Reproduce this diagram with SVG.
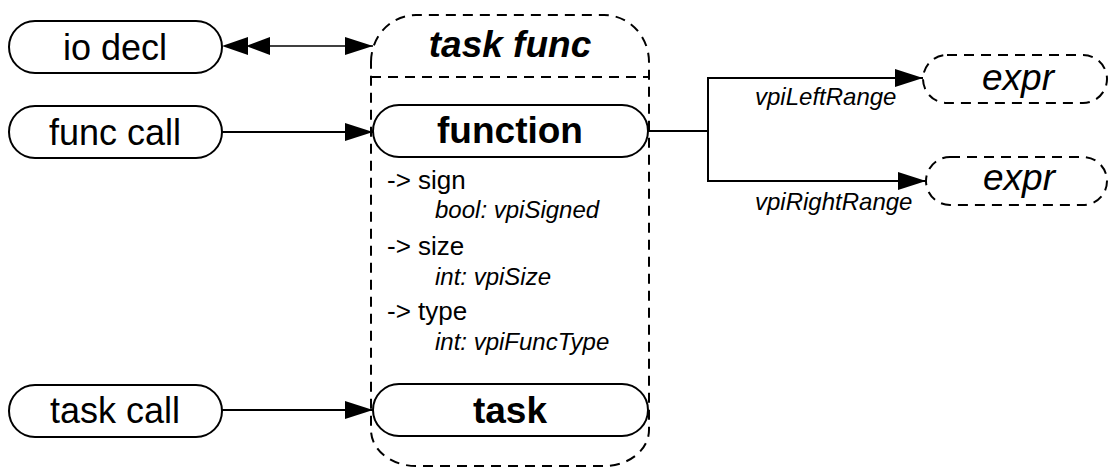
<svg xmlns="http://www.w3.org/2000/svg" width="1109" height="468" viewBox="0 0 1109 468">
<defs>
<style>
.pill{fill:#fff;stroke:#000;stroke-width:2}
.dash{fill:none;stroke:#000;stroke-width:2;stroke-dasharray:10 7}
.dpill{fill:#fff;stroke:#000;stroke-width:2;stroke-dasharray:10 7}
.big{font-family:"Liberation Sans",Arial,sans-serif;font-size:36px;text-anchor:middle}
.bold{font-weight:bold}
.it{font-style:italic}
.attr{font-family:"Liberation Sans",Arial,sans-serif;font-size:26px}
.sub{font-family:"Liberation Sans",Arial,sans-serif;font-size:24px;font-style:italic}
.conn{fill:none;stroke:#000;stroke-width:2}
.thin{fill:none;stroke:#000;stroke-width:1.3}
</style>
<marker id="ah" viewBox="0 0 28 18" refX="28" refY="9" markerWidth="28" markerHeight="18" markerUnits="userSpaceOnUse" orient="auto">
<path d="M0,0 L28,9 L0,18 Z" fill="#000"/>
</marker>
</defs>

<g id="task_func">
<path class="dash" d="M371,62 A45,47 0 0 1 416,15 L604,15 A45,47 0 0 1 649,62 L649,430 A45,36 0 0 1 604,466 L416,466 A45,36 0 0 1 371,430 Z"/>
<line class="dash" x1="371" y1="77" x2="649" y2="77"/>
<text class="big bold it" x="510" y="57" style="font-size:37px">task func</text>
<text class="attr" x="387" y="189">-&gt; sign</text>
<text class="sub" x="435" y="218">bool: vpiSigned</text>
<text class="attr" x="387" y="255">-&gt; size</text>
<text class="sub" x="435" y="285">int: vpiSize</text>
<text class="attr" x="387" y="320">-&gt; type</text>
<text class="sub" x="435" y="350">int: vpiFuncType</text>
</g>

<g id="function">
<rect class="pill" x="373" y="105" width="275" height="52" rx="26" ry="26"/>
<text class="big bold" x="510" y="143" style="font-size:37px">function</text>
</g>

<g id="task">
<rect class="pill" x="373" y="384" width="275" height="52" rx="26" ry="26"/>
<text class="big bold" x="510" y="423" style="font-size:37px">task</text>
</g>

<g id="io_decl">
<rect class="pill" x="9" y="21" width="213" height="52" rx="26" ry="26"/>
<text class="big" x="115" y="60">io decl</text>
</g>

<g id="func_call">
<rect class="pill" x="9" y="106" width="213" height="52" rx="26" ry="26"/>
<text class="big" x="115" y="145">func call</text>
</g>

<g id="task_call">
<rect class="pill" x="9" y="385" width="213" height="52" rx="26" ry="26"/>
<text class="big" x="115" y="423">task call</text>
</g>

<g id="expr_left">
<rect class="dpill" x="923" y="55" width="184" height="48" rx="24" ry="24"/>
<text class="big it" x="1018" y="90" style="font-size:37px">expr</text>
</g>

<g id="expr_right">
<rect class="dpill" x="926" y="157" width="181" height="48" rx="24" ry="24"/>
<text class="big it" x="1019" y="190" style="font-size:37px">expr</text>
</g>

<g id="connectors">
<line class="thin" x1="270" y1="46" x2="373" y2="46" marker-end="url(#ah)"/>
<path d="M222,46 L248,37 L248,55 Z" fill="#000"/>
<path d="M246,46 L270,37 L270,55 Z" fill="#000"/>
<line class="conn" x1="222" y1="132" x2="373" y2="132" marker-end="url(#ah)"/>
<line class="conn" x1="222" y1="410" x2="373" y2="410" marker-end="url(#ah)"/>
<path class="conn" d="M648,131 L708,131 M708,78 L708,181"/>
<line class="conn" x1="707" y1="78" x2="923" y2="78" marker-end="url(#ah)"/>
<line class="conn" x1="707" y1="181" x2="926" y2="181" marker-end="url(#ah)"/>
<text class="sub" x="755" y="105">vpiLeftRange</text>
<text class="sub" x="755" y="210">vpiRightRange</text>
</g>
</svg>
